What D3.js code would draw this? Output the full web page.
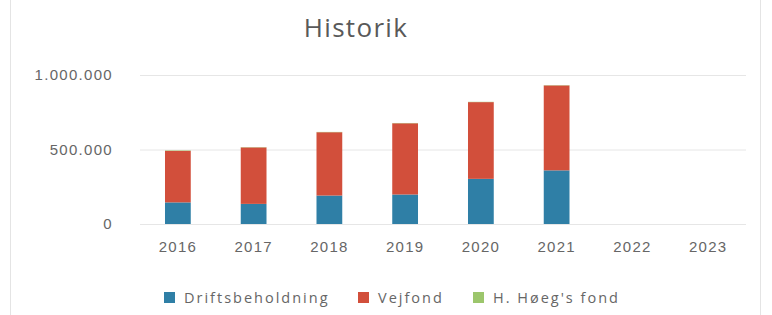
<!DOCTYPE html>
<html>
<head>
<meta charset="utf-8">
<script src="https://cdn.jsdelivr.net/npm/d3@7"></script>
<style>
  body { margin: 0; background: #fff; }
  svg { display: block; font-family: "Open Sans", "Liberation Sans", sans-serif; }
</style>
</head>
<body>
<div id="chart"></div>
<script>
var years = ["2016", "2017", "2018", "2019", "2020", "2021", "2022", "2023"];
var drift = [145000, 135000, 191000, 198000, 303000, 360000, 0, 0];
var vejfond = [346000, 379000, 425000, 478000, 515000, 570000, 0, 0];
var hoeg = [3000, 2000, 2000, 2000, 2000, 2000, 0, 0];
var seriesNames = ["Driftsbeholdning", "Vejfond", "H. Høeg's fond"];
var yTicks = [0, 500000, 1000000];

var colors = ["#2f7fa6", "#d24f3b", "#9cc66c"];

var width = 772, height = 315;
var margin = {top: 75, right: 26, bottom: 91, left: 140};
var innerW = width - margin.left - margin.right;
var innerH = height - margin.top - margin.bottom;

var svg = d3.select("#chart").append("svg")
    .attr("width", width)
    .attr("height", height);

// chart frame
svg.append("rect")
    .attr("x", 10.5).attr("y", -2)
    .attr("width", 750).attr("height", 320)
    .attr("fill", "none")
    .attr("stroke", "#e4e4e4");

svg.append("text")
    .attr("x", 356).attr("y", 37)
    .attr("text-anchor", "middle")
    .attr("fill", "#595959")
    .style("font-size", "26px")
    .style("letter-spacing", "1.3px")
    .text("Historik");

var g = svg.append("g")
    .attr("transform", "translate(" + margin.left + "," + margin.top + ")");

var x = d3.scaleBand().domain(years).range([0, innerW]).paddingInner(0.66).paddingOuter(0.33);
var y = d3.scaleLinear().domain([0, 1000000]).range([innerH, 0]);

var table = years.map(function (yr, i) {
    return {year: yr, s0: drift[i], s1: vejfond[i], s2: hoeg[i]};
});
var stack = d3.stack().keys(["s0", "s1", "s2"]);
var layers = stack(table);

var fmt = function (v) { return d3.format(",")(v).replace(/,/g, "."); };

// gridlines
g.append("g")
    .call(d3.axisLeft(y).tickValues(yTicks).tickSize(-innerW).tickFormat(fmt).tickPadding(27))
    .call(function (a) {
        a.select(".domain").remove();
        a.selectAll(".tick line").attr("stroke", "#e6e6e6");
        a.selectAll(".tick text").attr("fill", "#666")
            .style("font-size", "15px").style("letter-spacing", "1.3px");
    });

g.append("g")
    .attr("transform", "translate(0," + innerH + ")")
    .call(d3.axisBottom(x).tickSize(0).tickPadding(17))
    .call(function (a) {
        a.select(".domain").remove();
        a.selectAll(".tick text").attr("fill", "#666")
            .style("font-size", "15px").style("letter-spacing", "1.2px");
    });

g.selectAll(".layer")
    .data(layers)
    .enter().append("g")
    .attr("fill", function (d, i) { return colors[i]; })
    .selectAll("rect")
    .data(function (d) { return d; })
    .enter().append("rect")
    .attr("x", function (d) { return x(d.data.year); })
    .attr("y", function (d) { return y(d[1]); })
    .attr("width", x.bandwidth())
    .attr("height", function (d) { return y(d[0]) - y(d[1]); });

// legend
var legendX = [184, 378, 493];
var legend = svg.append("g").attr("transform", "translate(0,298)");
seriesNames.forEach(function (name, i) {
    legend.append("rect")
        .attr("x", legendX[i] - 20).attr("y", -6)
        .attr("width", 11).attr("height", 11)
        .attr("fill", colors[i]);
    legend.append("text")
        .attr("x", legendX[i]).attr("y", 5)
        .attr("fill", "#666")
        .style("font-size", "14.5px")
        .style("letter-spacing", "2px")
        .text(name);
});
</script>
</body>
</html>
